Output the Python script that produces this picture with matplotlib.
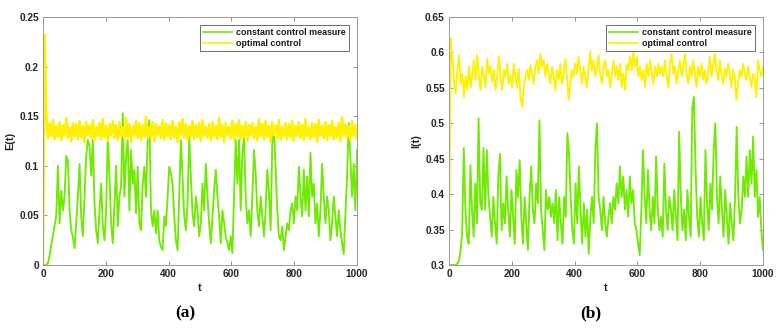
import numpy as np
import matplotlib
matplotlib.use('Agg')
from matplotlib import pyplot as plt
from matplotlib.ticker import FormatStrFormatter

plt.rcParams['font.family'] = ['Liberation Sans', 'DejaVu Sans']

# panel (a): E(t)
green_a = [
    0, 0, 0, 0.002, 0.010, 0.020, 0.030, 0.040, 0.050, 0.100,
    0.042, 0.075, 0.055, 0.070, 0.110, 0.105, 0.055, 0.035, 0.028, 0.017,
    0.042, 0.070, 0.102, 0.049, 0.029, 0.070, 0.110, 0.126, 0.120, 0.090,
    0.126, 0.062, 0.035, 0.022, 0.055, 0.082, 0.039, 0.025, 0.055, 0.130,
    0.089, 0.042, 0.022, 0.062, 0.100, 0.039, 0.069, 0.079, 0.153, 0.069,
    0.110, 0.126, 0.055, 0.116, 0.082, 0.096, 0.052, 0.099, 0.042, 0.035,
    0.082, 0.099, 0.069, 0.126, 0.146,
    0.055, 0.039, 0.055, 0.032, 0.055, 0.025, 0.018, 0.015, 0.049, 0.039,
    0.069, 0.099, 0.092, 0.082, 0.049, 0.025, 0.015, 0.069, 0.126, 0.089,
    0.049, 0.035, 0.062, 0.130, 0.089, 0.052, 0.039, 0.069, 0.055, 0.029,
    0.042, 0.082, 0.055, 0.102, 0.069, 0.042, 0.022, 0.049, 0.076, 0.096,
    0.069, 0.049, 0.022, 0.055, 0.042, 0.029, 0.022, 0.015, 0.029, 0.012,
    0.069, 0.126, 0.082, 0.126, 0.055, 0.113, 0.130, 0.069, 0.042, 0.055,
    0.029, 0.069, 0.116,
    0.092, 0.055, 0.039, 0.069, 0.049, 0.029, 0.055, 0.096, 0.072, 0.035,
    0.123, 0.136, 0.099, 0.055, 0.029, 0.025, 0.039, 0.015, 0.029, 0.042,
    0.035, 0.055, 0.062, 0.042, 0.069, 0.055, 0.099, 0.069, 0.049, 0.096,
    0.055, 0.089, 0.049, 0.113, 0.069, 0.082, 0.042, 0.062, 0.029, 0.055,
    0.102, 0.069, 0.042, 0.069, 0.055, 0.025, 0.042, 0.069, 0.049, 0.029,
    0.055, 0.035, 0.022, 0.011, 0.049, 0.089, 0.143, 0.109, 0.069, 0.102,
    0.055, 0.116,
]
yellow_a = [
    0.000, 0.232, 0.150, 0.128, 0.143, 0.130, 0.146, 0.127, 0.140, 0.129,
    0.144, 0.126, 0.141, 0.131, 0.148, 0.128, 0.139, 0.125, 0.143, 0.130,
    0.142, 0.127, 0.145, 0.129, 0.140, 0.124, 0.144, 0.131, 0.141, 0.128,
    0.146, 0.126, 0.139, 0.130, 0.143, 0.127, 0.147, 0.129, 0.140, 0.125,
    0.142, 0.131, 0.145, 0.128, 0.141, 0.126, 0.144, 0.130, 0.139, 0.127,
    0.148, 0.129, 0.142, 0.124, 0.140, 0.131, 0.145, 0.128, 0.143, 0.126,
    0.141, 0.130, 0.149, 0.127, 0.139, 0.129, 0.144, 0.125, 0.142, 0.131,
    0.140, 0.128, 0.146, 0.126, 0.143, 0.130, 0.141, 0.127, 0.145, 0.129,
    0.139, 0.124, 0.144, 0.131, 0.147, 0.128, 0.142, 0.126, 0.140, 0.130,
    0.145, 0.127, 0.141, 0.129, 0.143, 0.125, 0.146, 0.131, 0.139, 0.128,
    0.142, 0.126, 0.144, 0.130, 0.140, 0.127, 0.148, 0.129, 0.141, 0.124,
    0.143, 0.131, 0.139, 0.128, 0.145, 0.126, 0.142, 0.130, 0.146, 0.127,
    0.140, 0.129, 0.144, 0.125, 0.141, 0.131, 0.143, 0.128, 0.139, 0.126,
    0.147, 0.130, 0.142, 0.127, 0.145, 0.129, 0.140, 0.124, 0.144, 0.131,
    0.141, 0.128, 0.146, 0.126, 0.139, 0.130, 0.143, 0.127, 0.142, 0.129,
    0.145, 0.125, 0.140, 0.131, 0.144, 0.128, 0.141, 0.126, 0.147, 0.130,
    0.139, 0.127, 0.143, 0.129, 0.142, 0.124, 0.146, 0.131, 0.140, 0.128,
    0.144, 0.126, 0.141, 0.130, 0.145, 0.127, 0.139, 0.129, 0.143, 0.125,
    0.149, 0.131, 0.142, 0.128, 0.140, 0.126, 0.145, 0.130, 0.141, 0.127,
]

# panel (b): I(t)
green_b = [
    0.300, 0.300, 0.300, 0.300, 0.300, 0.302, 0.305, 0.320, 0.345, 0.465,
    0.378, 0.340, 0.330, 0.441, 0.378, 0.340, 0.415, 0.359, 0.507, 0.387,
    0.378, 0.465, 0.378, 0.462, 0.396, 0.368, 0.340, 0.396, 0.359, 0.330,
    0.425, 0.457, 0.349, 0.387, 0.359, 0.425, 0.378, 0.340, 0.406, 0.368,
    0.330, 0.434, 0.396, 0.448, 0.368, 0.330, 0.396, 0.359, 0.321, 0.396,
    0.439, 0.378, 0.359, 0.415, 0.387, 0.504, 0.378, 0.349, 0.321, 0.406,
    0.378, 0.396, 0.368, 0.387, 0.359, 0.406,
    0.335, 0.396, 0.359, 0.330, 0.396, 0.368, 0.486, 0.457, 0.396, 0.349,
    0.330, 0.415, 0.359, 0.439, 0.378, 0.330, 0.387, 0.340, 0.378, 0.316,
    0.368, 0.396, 0.359, 0.462, 0.500, 0.396, 0.378, 0.349, 0.396, 0.359,
    0.340, 0.368, 0.387, 0.359, 0.396, 0.378, 0.415, 0.387, 0.439, 0.396,
    0.425, 0.378, 0.406, 0.368, 0.425, 0.387, 0.406, 0.359, 0.349, 0.330,
    0.314, 0.378, 0.462, 0.396, 0.359, 0.434, 0.378, 0.349, 0.396, 0.359,
    0.453, 0.378, 0.349,
    0.368, 0.340, 0.443, 0.378, 0.349, 0.396, 0.378, 0.349, 0.406, 0.368,
    0.335, 0.488, 0.396, 0.349, 0.378, 0.335, 0.406, 0.368, 0.340, 0.523,
    0.537, 0.434, 0.368, 0.340, 0.396, 0.359, 0.335, 0.462, 0.387, 0.349,
    0.415, 0.378, 0.462, 0.500, 0.396, 0.359, 0.425, 0.378, 0.340, 0.406,
    0.368, 0.330, 0.387, 0.359, 0.335, 0.396, 0.495, 0.396, 0.359, 0.378,
    0.425, 0.396, 0.453, 0.396, 0.462, 0.415, 0.481, 0.396, 0.434, 0.368,
    0.396, 0.349, 0.321,
]
yellow_b = [
    0.300, 0.620, 0.589, 0.561, 0.542, 0.575, 0.596, 0.556, 0.570, 0.537,
    0.566, 0.547, 0.580, 0.551, 0.570, 0.589, 0.561, 0.596, 0.566, 0.547,
    0.580, 0.566, 0.551, 0.591, 0.570, 0.580, 0.559, 0.575, 0.547, 0.566,
    0.594, 0.566, 0.547, 0.575, 0.566, 0.584, 0.556, 0.568, 0.551, 0.584,
    0.566, 0.551, 0.577, 0.537, 0.523, 0.551, 0.566, 0.575, 0.561, 0.582,
    0.570, 0.556, 0.580, 0.589, 0.570, 0.598, 0.580, 0.589, 0.566, 0.584,
    0.570, 0.556, 0.580, 0.566, 0.547,
    0.575, 0.561, 0.584, 0.556, 0.570, 0.591, 0.566, 0.533, 0.556, 0.575,
    0.566, 0.584, 0.570, 0.594, 0.575, 0.556, 0.580, 0.566, 0.551, 0.575,
    0.601, 0.575, 0.589, 0.566, 0.580, 0.596, 0.570, 0.556, 0.580, 0.589,
    0.566, 0.575, 0.551, 0.570, 0.589, 0.566, 0.580, 0.561, 0.584, 0.551,
    0.570, 0.547, 0.584, 0.575, 0.594, 0.575, 0.601, 0.580, 0.594, 0.566,
    0.580, 0.561, 0.575, 0.551, 0.584, 0.566, 0.589, 0.570, 0.556, 0.580,
    0.566, 0.584, 0.570,
    0.580, 0.566, 0.589, 0.566, 0.551, 0.584, 0.598, 0.570, 0.580, 0.556,
    0.575, 0.589, 0.566, 0.582, 0.598, 0.570, 0.556, 0.580, 0.566, 0.589,
    0.570, 0.551, 0.580, 0.566, 0.584, 0.561, 0.575, 0.556, 0.570, 0.594,
    0.566, 0.580, 0.598, 0.575, 0.561, 0.589, 0.570, 0.556, 0.577, 0.566,
    0.584, 0.570, 0.551, 0.575, 0.566, 0.533, 0.556, 0.575, 0.566, 0.584,
    0.570, 0.561, 0.580, 0.566, 0.551, 0.570, 0.561, 0.537, 0.589, 0.575,
    0.566, 0.580,
]

x_ticks = [0, 200, 400, 600, 800, 1000]
yticks_a = [0, 0.05, 0.1, 0.15, 0.2, 0.25]
yticks_b = [0.3, 0.35, 0.4, 0.45, 0.5, 0.55, 0.6, 0.65]

GREEN = '#70ea00'
YELLOW = '#fff000'


def draw_panel(ax, green, yellow, yticks, ylab, lw_y):
    tg = np.linspace(0, 1000, len(green))
    ty = np.linspace(0, 1000, len(yellow))
    ax.plot(tg, green, color=GREEN, lw=1.35, label='constant control measure')
    ax.plot(ty, yellow, color=YELLOW, lw=lw_y, label='optimal control')
    ax.set_xlim(0, 1000)
    ax.set_ylim(yticks[0], yticks[-1])
    ax.set_xticks(x_ticks)
    ax.set_yticks(yticks)
    ax.yaxis.set_major_formatter(FormatStrFormatter('%g'))
    ax.tick_params(direction='in', top=True, right=True, length=3, width=0.6,
                   color='#808080', labelsize=7.3, labelcolor='#262626', pad=3)
    for lbl in ax.get_xticklabels() + ax.get_yticklabels():
        lbl.set_fontweight('bold')
    for s in ax.spines.values():
        s.set_color('#9a9a9a')
        s.set_linewidth(0.7)
    ax.set_xlabel('t', fontsize=7.8, fontweight='bold', color='#262626', labelpad=3)
    ax.set_ylabel(ylab, fontsize=7.8, fontweight='bold', color='#262626', labelpad=3)
    leg = ax.legend(loc='upper right', bbox_to_anchor=(0.975, 0.968), borderaxespad=0,
                    prop={'weight': 'bold', 'size': 6.4},
                    fancybox=False, framealpha=1, edgecolor='#555555',
                    handlelength=3.2, handletextpad=0.5, borderpad=0.35, labelspacing=0.25)
    leg.get_frame().set_linewidth(0.6)
    for line in leg.get_lines():
        line.set_linewidth(1.2)
    for t in leg.get_texts():
        t.set_color('#1a1a1a')


fig = plt.figure(figsize=(7.83, 3.31), dpi=100)
ax1 = fig.add_axes([43 / 783, 1 - 265 / 331, 314 / 783, 248 / 331])
ax2 = fig.add_axes([449 / 783, 1 - 265 / 331, 314 / 783, 248 / 331])

draw_panel(ax1, green_a, yellow_a, yticks_a, 'E(t)', 1.8)
draw_panel(ax2, green_b, yellow_b, yticks_b, 'I(t)', 1.35)

fig.text(185 / 783, 1 - 313 / 331, '(a)', ha='center', va='center', fontsize=12.5,
         fontweight='bold', family=['Liberation Serif', 'DejaVu Serif'])
fig.text(591 / 783, 1 - 313 / 331, '(b)', ha='center', va='center', fontsize=12.5,
         fontweight='bold', family=['Liberation Serif', 'DejaVu Serif'])

fig.savefig('out.png', dpi=100)
